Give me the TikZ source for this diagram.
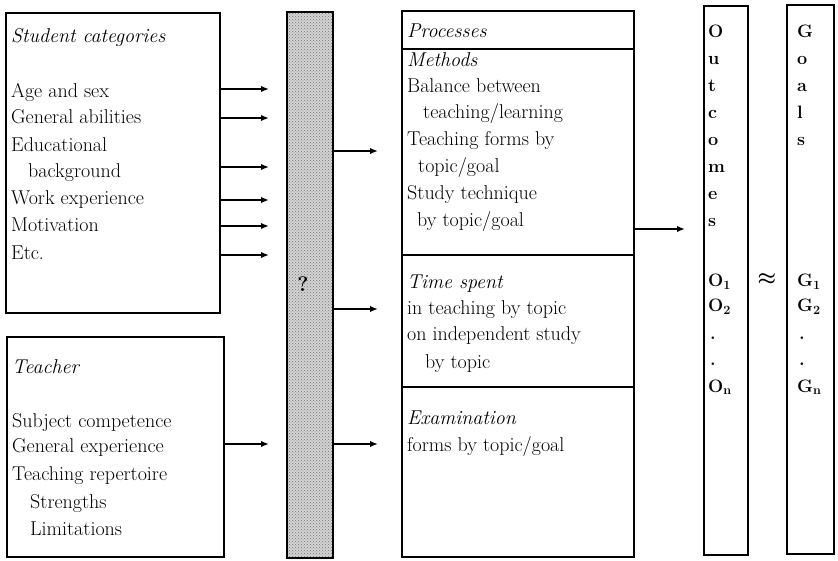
\documentclass[tikz,border=0pt]{standalone}
\usetikzlibrary{arrows.meta,patterns}
\begin{document}
\begin{tikzpicture}[x=1pt,y=-1pt,
  box/.style={draw, line width=2.3pt, inner sep=0pt, outer sep=0pt, anchor=north west},
  rule/.style={line width=2.3pt},
  arr/.style={-{Latex[length=8pt,width=6.5pt]}, line width=1.7pt},
  txt/.style={anchor=west, inner sep=0pt, text height=12pt, text depth=0pt, font=\fontsize{20}{24}\selectfont},
  ltr/.style={anchor=west, inner sep=0pt, text height=12pt, text depth=0pt, font=\fontsize{18}{22}\selectfont\bfseries},
]
\useasboundingbox (0,0) rectangle (838,561);
\fill[white] (0,0) rectangle (838,561);

% boxes
\node[box, minimum width=214pt, minimum height=300pt] (stud) at (6,13) {};
\node[box, minimum width=217pt, minimum height=220pt] (teach) at (7,337) {};
\node[box, fill=black!17, minimum width=46pt, minimum height=546pt] (col) at (287,12) {};
\fill[pattern=crosshatch dots, pattern color=black!55] (col.north west) rectangle (col.south east);
\draw[line width=2.3pt] (col.north west) rectangle (col.south east);
\node[box, minimum width=232pt, minimum height=546pt] (proc) at (402,11) {};
\node[box, minimum width=44pt, minimum height=549pt] (outc) at (704,6) {};
\node[box, minimum width=47pt, minimum height=549pt] (goal) at (787,5) {};

% process dividers
\draw[rule] (proc.west |- 0,49) -- (proc.east |- 0,49);
\draw[rule] (proc.west |- 0,255) -- (proc.east |- 0,255);
\draw[rule] (proc.west |- 0,387) -- (proc.east |- 0,387);

% student text
\node[txt] (st0) at (11,37) {\itshape Student categories};
\node[txt] (st1) at (11,92) {Age and sex};
\node[txt] (st2) at (11,118) {General abilities};
\node[txt] (st3) at (11,146) {Educational};
\node[txt] (st4) at (28,172) {background};
\node[txt] (st5) at (11,199) {Work experience};
\node[txt] (st6) at (11,226) {Motivation};
\node[txt] (st7) at (11,254) {Etc.};

% teacher text
\node[txt] (te0) at (12,367) {\itshape Teacher};
\node[txt] (te1) at (12,421) {Subject competence};
\node[txt] (te2) at (12,446) {General experience};
\node[txt] (te3) at (12,474) {Teaching repertoire};
\node[txt] (te4) at (30,502) {Strengths};
\node[txt] (te5) at (30,529) {Limitations};

% question mark
\node[anchor=center, inner sep=1pt, font=\fontsize{21}{24}\selectfont\bfseries] (q) at (303,284) {?};

% processes text
\node[txt] (p0) at (407,32) {\itshape Processes};
\node[txt] (p1) at (407,61) {\itshape Methods};
\node[txt] (p2) at (407,87) {Balance between};
\node[txt] (p3) at (423,113) {teaching/learning};
\node[txt] (p4) at (407,140) {Teaching forms by};
\node[txt] (p5) at (418,167) {topic/goal};
\node[txt] (p6) at (407,194) {Study technique};
\node[txt] (p7) at (417,221) {by topic/goal};
\node[txt] (p8) at (407,283) {\itshape Time spent};
\node[txt] (p9) at (407,309) {in teaching by topic};
\node[txt] (p10) at (407,335) {on independent study};
\node[txt] (p11) at (425,362) {by topic};
\node[txt] (p12) at (407,418) {\itshape Examination};
\node[txt] (p13) at (407,445) {forms by topic/goal};

% outcomes letters
\foreach \l [count=\i] in {O,u,t,c,o,m,e,s}
  \node[ltr] (oc\i) at (708,{32+27*(\i-1)}) {\l};
\foreach \l [count=\i] in {G,o,a,l,s}
  \node[ltr] (gl\i) at (797,{32+27*(\i-1)}) {\l};
\node[ltr] (o1) at (708,281) {O\textsubscript{1}};
\node[ltr] (o2) at (708,306) {O\textsubscript{2}};
\node[ltr] (o3) at (710,333) {.};
\node[ltr] (o4) at (710,359) {.};
\node[ltr] (on) at (708,386) {O\textsubscript{n}};
\node[ltr] (g1) at (797,281) {G\textsubscript{1}};
\node[ltr] (g2) at (797,306) {G\textsubscript{2}};
\node[ltr] (g3) at (799,333) {.};
\node[ltr] (g4) at (799,359) {.};
\node[ltr] (gn) at (797,386) {G\textsubscript{n}};
\node[anchor=center, inner sep=0pt, font=\fontsize{22}{24}\selectfont\boldmath] (apx) at (767,279) {$\approx$};

% arrows student -> column
\foreach \yy in {89,118,167,200,226,255}
  \draw[arr, shorten >=18pt] (stud.east |- 0,\yy) -- (col.west |- 0,\yy);
\draw[arr, shorten >=18pt] (teach.east |- 0,444) -- (col.west |- 0,444);
% arrows column -> processes
\foreach \yy in {151,309,444}
  \draw[arr, shorten >=24pt] (col.east |- 0,\yy) -- (proc.west |- 0,\yy);
% processes -> outcomes
\draw[arr, shorten >=19pt] (proc.east |- 0,229) -- (outc.west |- 0,229);
\end{tikzpicture}
\end{document}
